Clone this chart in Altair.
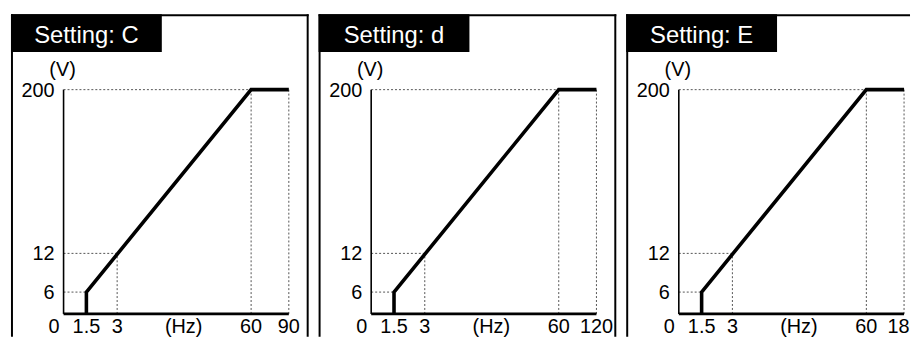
import altair as alt
import pandas as pd

# ---- data ----
settings = ["C", "d", "E"]
max_freq = [90, 120, 180]              # last x tick of each panel (Hz)
x_ticks = [0, 1.5, 3, 60]              # common x ticks (Hz), max_freq appended per panel
y_ticks = [0, 6, 12, 200]              # y ticks (V)
curve_freq = [1.5, 1.5, 60]            # V/f pattern, max_freq appended per panel
curve_volt = [0, 6, 200, 200]
boost = (1.5, 6)
mid = (3, 12)
rated = (60, 200)

# ---- layout / style ----
W = [300, 300, 286]
H = 325
X_RANGE = [53, 76, 107, 242, 280]
Y_RANGE = [302, 280, 241, 76]
FONT = "Liberation Sans"
FS = 20
dummy = pd.DataFrame({"k": [0]})


def panel(setting, xmax, width, right_border):
    xs = alt.Scale(domain=x_ticks + [xmax], range=X_RANGE)
    ys = alt.Scale(domain=y_ticks, range=Y_RANGE)

    def X(f):
        return alt.X(f, type="quantitative", scale=xs, axis=None)

    def Y(f):
        return alt.Y(f, type="quantitative", scale=ys, axis=None)

    # dotted guides
    guides = pd.DataFrame({
        "x":  [0, xmax, rated[0], mid[0], 0, 0],
        "y":  [rated[1], 0, 0, 0, mid[1], boost[1]],
        "x2": [xmax, xmax, rated[0], mid[0], mid[0], boost[0]],
        "y2": [rated[1], rated[1], rated[1], mid[1], mid[1], boost[1]],
    })
    g = alt.Chart(guides).mark_rule(color="#555", strokeWidth=1, strokeDash=[2, 2]).encode(
        x=X("x"), y=Y("y"), x2="x2", y2="y2")

    axes = pd.DataFrame({"x": [0, 0], "y": [0, 0], "x2": [0, xmax], "y2": [200, 0], "w": [1.6, 2.6]})
    a = alt.Chart(axes).mark_rule(color="black").encode(
        x=X("x"), y=Y("y"), x2="x2", y2="y2",
        strokeWidth=alt.StrokeWidth("w:Q", scale=None))

    curve = pd.DataFrame({"f": curve_freq + [xmax], "v": curve_volt, "o": list(range(4))})
    c = alt.Chart(curve).mark_line(color="black", strokeWidth=3.6, strokeJoin="miter").encode(
        x=X("f"), y=Y("v"), order="o:Q")

    # tick labels
    xl = pd.DataFrame({"x": x_ticks[1:] + [xmax], "t": [str(v) for v in x_ticks[1:]] + [str(xmax)]})
    xlab = alt.Chart(xl).mark_text(font=FONT, fontSize=FS, align="center", baseline="middle",
                                   dy=13, clip=True, color="black").encode(
        x=X("x"), y=alt.Y(datum=0, scale=ys, axis=None), text="t:N")
    x0lab = alt.Chart(dummy).mark_text(font=FONT, fontSize=FS, align="right", baseline="middle",
                                       dx=-4, dy=13, color="black", text="0").encode(
        x=alt.X(datum=0, scale=xs, axis=None), y=alt.Y(datum=0, scale=ys, axis=None))
    yl = pd.DataFrame({"y": y_ticks[1:], "t": [str(v) for v in y_ticks[1:]]})
    ylab = alt.Chart(yl).mark_text(font=FONT, fontSize=FS, align="right", baseline="middle",
                                   dx=-9, dy=1, color="black").encode(
        x=alt.X(datum=0, scale=xs, axis=None), y=Y("y"), text="t:N")
    vlab = alt.Chart(dummy).mark_text(font=FONT, fontSize=FS, align="center", baseline="middle",
                                      dy=-20, dx=-1, color="black", text="(V)").encode(
        x=alt.X(datum=0, scale=xs, axis=None), y=alt.Y(datum=200, scale=ys, axis=None))
    hzlab = alt.Chart(dummy).mark_text(font=FONT, fontSize=FS, align="center", baseline="bottom",
                                       color="black", text="(Hz)").encode(
        x=alt.value(174), y=alt.value(H))

    # frame and title box
    frame = [
        alt.Chart(dummy).mark_rule(color="black", strokeWidth=2).encode(
            x=alt.value(1), y=alt.value(0), y2=alt.value(H)),
        alt.Chart(dummy).mark_rule(color="black", strokeWidth=2).encode(
            x=alt.value(0), x2=alt.value(width), y=alt.value(1)),
    ]
    if right_border:
        frame.append(alt.Chart(dummy).mark_rule(color="black", strokeWidth=2).encode(
            x=alt.value(width - 1), y=alt.value(0), y2=alt.value(H)))
    box = alt.Chart(dummy).mark_rect(color="black").encode(
        x=alt.value(0), x2=alt.value(152), y=alt.value(0), y2=alt.value(38))
    ttl = alt.Chart(dummy).mark_text(font=FONT, fontSize=24, align="center", baseline="alphabetic",
                                     color="white", text="Setting: " + setting).encode(
        x=alt.value(76), y=alt.value(29))

    return alt.layer(*frame, box, ttl, g, a, c, xlab, x0lab, ylab, vlab, hzlab).properties(
        width=width, height=H)


panels = [panel(s, m, w, i < 2) for i, (s, m, w) in enumerate(zip(settings, max_freq, W))]
chart = alt.hconcat(*panels, spacing=8).properties(
    padding={"left": 2, "top": 4, "right": 0, "bottom": 0}
).configure_view(strokeWidth=0)

chart.save("out.html", embed_options={"renderer": "svg", "actions": False})
